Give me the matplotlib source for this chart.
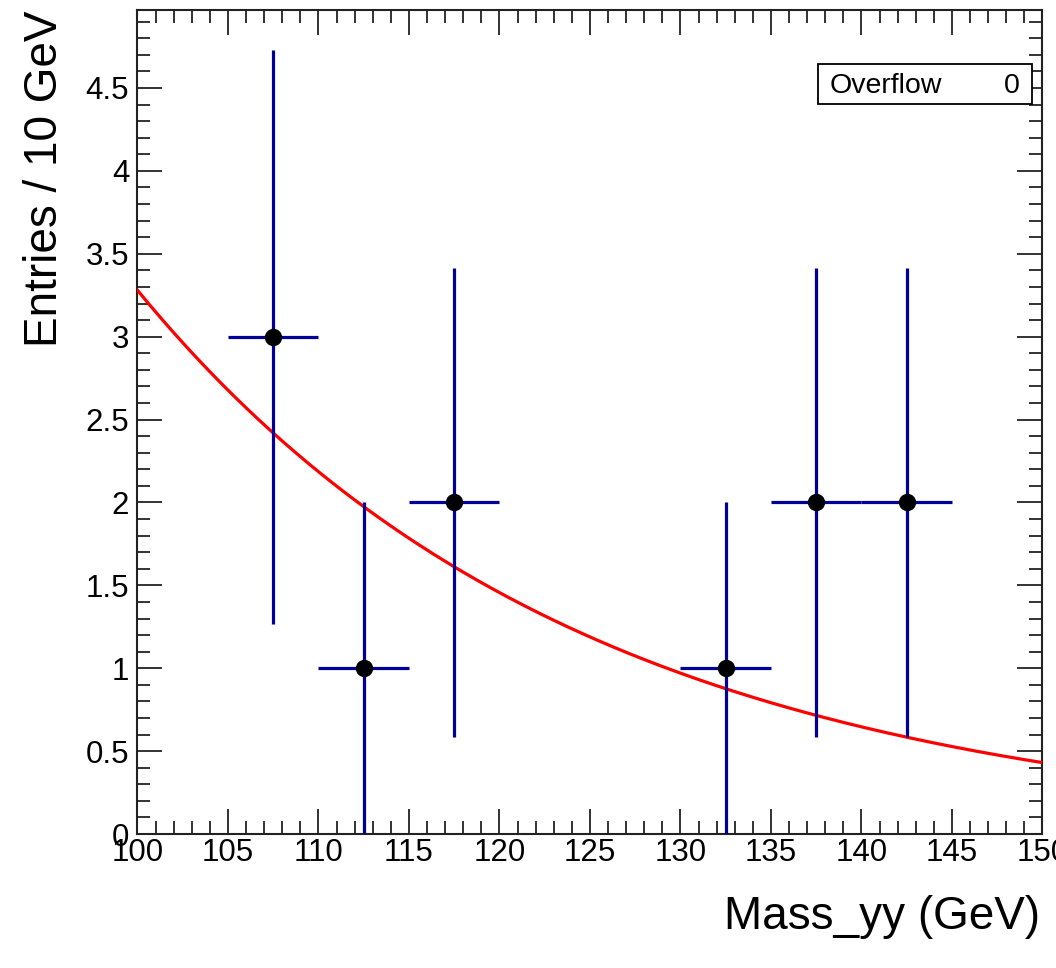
import numpy as np
import matplotlib
matplotlib.use("Agg")
from matplotlib import pyplot as plt
from matplotlib.ticker import MultipleLocator

plt.rcParams["font.family"] = ["Liberation Sans", "DejaVu Sans"]

# binned data (5 GeV bins), sqrt(N) errors
bin_centers = [107.5, 112.5, 117.5, 132.5, 137.5, 142.5]
entries = [3, 1, 2, 1, 2, 2]
bin_width = 5.0

# exponential fit: norm * exp(slope * (m - 100))
fit_norm = 3.28
fit_slope = -0.0406

overflow = 0

fig = plt.figure(figsize=(10.56, 9.68), dpi=100)
ax = fig.add_axes([0.1302, 0.1384, 0.857, 0.8512])

m = np.linspace(100, 150, 300)
ax.plot(m, fit_norm * np.exp(fit_slope * (m - 100)), color="red", lw=2.3, zorder=3)

errs = np.sqrt(entries)
ax.errorbar(bin_centers, entries, yerr=errs, xerr=bin_width / 2, fmt="none",
            ecolor="#000099", elinewidth=2.3, capsize=0, zorder=4)
ax.plot(bin_centers, entries, "o", color="black", ms=11.5, zorder=5)

ax.set_xlim(100, 150)
ax.set_ylim(0, 4.97)

ax.xaxis.set_major_locator(MultipleLocator(5))
ax.xaxis.set_minor_locator(MultipleLocator(1))
ax.yaxis.set_minor_locator(MultipleLocator(0.1))
ax.set_yticks(np.arange(0, 5.0, 0.5))
ax.set_yticklabels(["0", "0.5", "1", "1.5", "2", "2.5", "3", "3.5", "4", "4.5"])

ax.tick_params(which="both", direction="in", top=True, right=True,
               labelsize=22.5, width=1.3, color="#222222")
ax.tick_params(which="major", length=18, pad=6)
ax.tick_params(which="minor", length=9.5)
ax.tick_params(axis="x", which="major", pad=3)
for s in ax.spines.values():
    s.set_linewidth(1.5)
    s.set_color("#222222")

fig.text(0.985, 0.03, "Mass_yy (GeV)", fontsize=33, ha="right", va="bottom")
fig.text(0.043, 0.989, "Entries / 10 GeV", fontsize=33, rotation=90,
         ha="center", va="top")

ax.text(0.765, 0.908, "Overflow", transform=ax.transAxes, fontsize=20.5,
        va="center", ha="left", zorder=7)
ax.text(0.975, 0.908, str(overflow), transform=ax.transAxes, fontsize=20.5,
        va="center", ha="right", zorder=7)
box = plt.Rectangle((0.752, 0.886), 0.236, 0.0485, transform=ax.transAxes,
                    fc="white", ec="black", lw=1.3, zorder=6)
ax.add_patch(box)

fig.savefig("out.png", dpi=100)
